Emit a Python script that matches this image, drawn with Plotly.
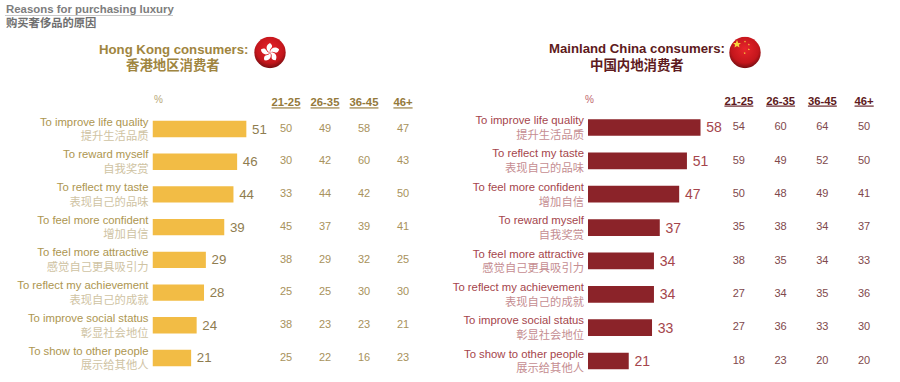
import base64
import plotly.graph_objects as go

W, H = 900, 382
FONT = "Liberation Sans, Arial, Noto Sans CJK SC"

age_groups = ["21-25", "26-35", "36-45", "46+"]

hk_en = ["To improve life quality", "To reward myself", "To reflect my taste", "To feel more confident",
         "To feel more attractive", "To reflect my achievement", "To improve social status", "To show to other people"]
hk_zh = ["提升生活品质", "自我奖赏", "表现自己的品味", "增加自信",
         "感觉自己更具吸引力", "表现自己的成就", "彰显社会地位", "展示给其他人"]
hk_total = [51, 46, 44, 39, 29, 28, 24, 21]
hk_21_25 = [50, 30, 33, 45, 38, 25, 38, 25]
hk_26_35 = [49, 42, 44, 37, 29, 25, 23, 22]
hk_36_45 = [58, 60, 42, 39, 32, 30, 23, 16]
hk_46_up = [47, 43, 50, 41, 25, 30, 21, 23]

cn_en = ["To improve life quality", "To reflect my taste", "To feel more confident", "To reward myself",
         "To feel more attractive", "To reflect my achievement", "To improve social status", "To show to other people"]
cn_zh = ["提升生活品质", "表现自己的品味", "增加自信", "自我奖赏",
         "感觉自己更具吸引力", "表现自己的成就", "彰显社会地位", "展示给其他人"]
cn_total = [58, 51, 47, 37, 34, 34, 33, 21]
cn_21_25 = [54, 59, 50, 35, 38, 27, 27, 18]
cn_26_35 = [60, 49, 48, 38, 35, 34, 36, 23]
cn_36_45 = [64, 52, 49, 34, 34, 35, 33, 20]
cn_46_up = [50, 50, 41, 37, 33, 36, 30, 20]


def px_x(p):
    return p / W


def px_y(p):
    return 1 - p / H


def labels(en, zh, c_en, c_zh):
    return [f'<span style="color:{c_en}">{a}</span><br><span style="color:{c_zh}">{b}</span>' for a, b in zip(en, zh)]


fig = go.Figure()


def panel(idx, en, zh, total, ages, bar_col, val_col, val_size, en_col, zh_col, age_col, head_col, bar_x, bar_w, cols_x, top, bottom):
    bx = "x" if idx == 0 else "x3"
    ax = "x2" if idx == 0 else "x4"
    yy = "y" if idx == 0 else "y2"
    fig.add_trace(go.Bar(
        x=total, y=list(range(8)), orientation="h", xaxis=bx, yaxis=yy,
        marker=dict(color=bar_col, line=dict(width=0)),
        text=total, texttemplate="\u2009%{x}", textposition="outside", cliponaxis=False,
        textfont=dict(size=val_size, color=val_col, family=FONT), showlegend=False, width=0.5,
    ))
    for g, vals in zip(age_groups, ages):
        fig.add_trace(go.Scatter(
            x=[g] * 8, y=list(range(8)), mode="text", text=vals, xaxis=ax, yaxis=yy,
            textfont=dict(size=11, color=age_col, family=FONT), showlegend=False,
        ))
    bkey = "xaxis" if idx == 0 else "xaxis3"
    akey = "xaxis2" if idx == 0 else "xaxis4"
    ykey = "yaxis" if idx == 0 else "yaxis2"
    fig.update_layout(**{
        bkey: dict(domain=[px_x(bar_x), px_x(bar_x + bar_w)], range=[0, 60], visible=False, anchor=yy, automargin=False),
        akey: dict(domain=[px_x(cols_x[0]), px_x(cols_x[1])], type="category",
                   categoryorder="array", categoryarray=age_groups, range=[-0.5, 3.5],
                   tickvals=age_groups, ticktext=[f"<b><u>{g}</u></b>" for g in age_groups],
                   side="top", anchor=yy, showline=False, showgrid=False, zeroline=False, automargin=False,
                   ticks="", ticklabelstandoff=3, tickfont=dict(size=11.3, color=head_col, family=FONT)),
        ykey: dict(domain=[px_y(bottom), px_y(top)], range=[7.5, -0.5], tickmode="array",
                   tickvals=list(range(8)), ticktext=labels(en, zh, en_col, zh_col),
                   anchor=bx, showline=False, showgrid=False, zeroline=False, ticks="", automargin=False,
                   ticklabelstandoff=3,
                   tickfont=dict(size=11.3, family=FONT)),
    })


panel(0, hk_en, hk_zh, hk_total, [hk_21_25, hk_26_35, hk_36_45, hk_46_up],
      "#f2bc45", "#8f7d50", 13.3, "#ad9650", "#cfc3a3", "#a8925c", "#94793a",
      152.5, 110.4, (266.5, 422.5), 112.65, 374.35)
panel(1, cn_en, cn_zh, cn_total, [cn_21_25, cn_26_35, cn_36_45, cn_46_up],
      "#8b2329", "#a5454c", 14, "#a5454c", "#c58d91", "#80484c", "#5e1a20",
      588, 116.4, (718, 885), 110.8, 377.7)


def note(x, y, text, size, color, anchor="center"):
    fig.add_annotation(xref="paper", yref="paper", x=px_x(x), y=px_y(y), text=text, showarrow=False,
                       xanchor=anchor, yanchor="middle", align=anchor, xshift=-1 if anchor == "left" else 0,
                       font=dict(size=size, color=color, family=FONT))


note(5, 9, "<b>Reasons for purchasing luxury</b>", 11.4, "#7d7d7d", "left")
note(5, 23, "<b>购买奢侈品的原因</b>", 11.3, "#6f6f6f", "left")
note(173, 49, "<b>Hong Kong consumers:</b>", 13.2, "#a08540")
note(173, 65, "<b>香港地区消费者</b>", 13.4, "#a08540")
note(637, 48, "<b>Mainland China consumers:</b>", 13.2, "#5e1a20")
note(637, 65, "<b>中国内地消费者</b>", 13.4, "#5e1a20")
note(158, 100, "%", 10, "#b8a878")
note(589.5, 100, "%", 10, "#c0666c")

fig.add_shape(type="line", xref="paper", yref="paper", x0=px_x(5), x1=px_x(173), y0=px_y(15.5), y1=px_y(15.5),
              line=dict(color="#c8c8c8", width=1))

GRAD = ('<defs><radialGradient id="g" cx="50%" cy="40%" r="62%"><stop offset="0" stop-color="#e8252b"/>'
        '<stop offset="0.7" stop-color="#c4161c"/><stop offset="1" stop-color="#6e0d10"/></radialGradient></defs>'
        '<circle cx="50" cy="50" r="49" fill="url(#g)"/>')
PETAL = '<path d="M50 50 C36 44 36 26 50 20 C58 26 58 32 54 36 C50 40 48 44 50 50Z" fill="#fff" transform="rotate({r} 50 50)"/>'
hk_svg = ('<svg xmlns="http://www.w3.org/2000/svg" viewBox="0 0 100 100">' + GRAD
          + "".join(PETAL.format(r=r) for r in (0, 72, 144, 216, 288)) + "</svg>")
STAR = '<polygon points="0,-10 2.9,-3.1 9.5,-3.1 4.7,1.2 5.9,8.1 0,4.4 -5.9,8.1 -4.7,1.2 -9.5,-3.1 -2.9,-3.1" fill="#f6d63c" transform="translate({x} {y}) scale({s})"/>'
cn_svg = ('<svg xmlns="http://www.w3.org/2000/svg" viewBox="0 0 100 100">' + GRAD
          + STAR.format(x=25, y=24, s=1.3) + STAR.format(x=50, y=16, s=0.35) + STAR.format(x=62, y=25, s=0.35)
          + STAR.format(x=62, y=40, s=0.35) + STAR.format(x=49, y=52, s=0.35) + "</svg>")


def flag(svg, cx, cy, r):
    uri = "data:image/svg+xml;base64," + base64.b64encode(svg.encode()).decode()
    fig.add_layout_image(source=uri, xref="paper", yref="paper", x=px_x(cx - r), y=px_y(cy - r),
                         sizex=2 * r / W, sizey=2 * r / H, xanchor="left", yanchor="top", layer="above")


flag(hk_svg, 270, 52.5, 16)
flag(cn_svg, 745, 52.5, 16)

fig.update_layout(width=W, height=H, margin=dict(l=0, r=0, t=0, b=0), paper_bgcolor="white", plot_bgcolor="white",
                  showlegend=False, barmode="overlay", hovermode=False, font=dict(family=FONT))
fig.write_html("out.html", config={"displayModeBar": False}, post_script="document.body.style.margin='0';")
